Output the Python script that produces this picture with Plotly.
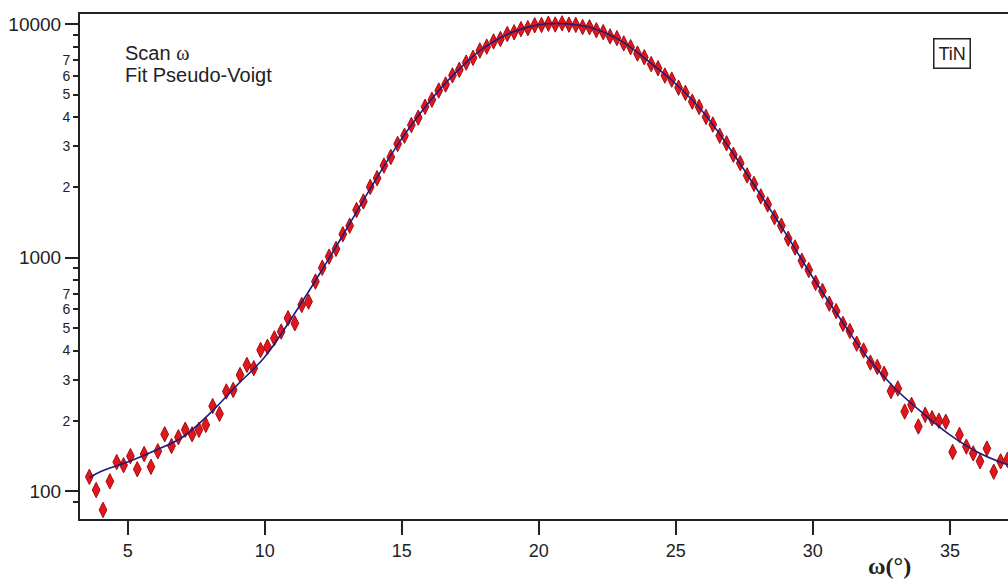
import plotly.graph_objects as go

# ---- data ----
omega = [
    3.60, 3.85, 4.10, 4.35, 4.60, 4.85, 5.10, 5.35, 5.60, 5.85,
    6.10, 6.35, 6.60, 6.85, 7.10, 7.35, 7.60, 7.85, 8.10, 8.35,
    8.60, 8.85, 9.10, 9.35, 9.60, 9.85, 10.10, 10.35, 10.60, 10.85,
    11.10, 11.35, 11.60, 11.85, 12.10, 12.35, 12.60, 12.85, 13.10, 13.35,
    13.60, 13.85, 14.10, 14.35, 14.60, 14.85, 15.10, 15.35, 15.60, 15.85,
    16.10, 16.35, 16.60, 16.85, 17.10, 17.35, 17.60, 17.85, 18.10, 18.35,
    18.60, 18.85, 19.10, 19.35, 19.60, 19.85, 20.10, 20.35, 20.60, 20.85,
    21.10, 21.35, 21.60, 21.85, 22.10, 22.35, 22.60, 22.85, 23.10, 23.35,
    23.60, 23.85, 24.10, 24.35, 24.60, 24.85, 25.10, 25.35, 25.60, 25.85,
    26.10, 26.35, 26.60, 26.85, 27.10, 27.35, 27.60, 27.85, 28.10, 28.35,
    28.60, 28.85, 29.10, 29.35, 29.60, 29.85, 30.10, 30.35, 30.60, 30.85,
    31.10, 31.35, 31.60, 31.85, 32.10, 32.35, 32.60, 32.85, 33.10, 33.35,
    33.60, 33.85, 34.10, 34.35, 34.60, 34.85, 35.10, 35.35, 35.60, 35.85,
    36.10, 36.35, 36.60, 36.85, 37.10,
]
intensity = [
    115, 101, 83, 110, 133, 129, 141, 124, 144, 127,
    148, 175, 156, 170, 183, 175, 183, 192, 231, 214,
    267, 271, 314, 347, 336, 402, 415, 451, 482, 550,
    523, 627, 648, 790, 905, 1010, 1090, 1260, 1370, 1600,
    1740, 2010, 2190, 2480, 2700, 3070, 3330, 3700, 3980, 4430,
    4750, 5200, 5520, 6040, 6380, 6850, 7180, 7720, 8020, 8440,
    8650, 9080, 9240, 9530, 9620, 9900, 9930, 10050, 9980, 10090,
    9960, 9940, 9730, 9710, 9430, 9250, 8870, 8720, 8280, 7980,
    7490, 7220, 6750, 6480, 6030, 5790, 5350, 5080, 4660, 4420,
    4010, 3720, 3330, 3090, 2760, 2540, 2250, 2070, 1830, 1690,
    1490, 1370, 1205, 1105, 970, 885, 780, 720, 635, 590,
    520, 485, 428, 400, 355, 340, 318, 268, 275, 219,
    234, 189, 212, 205, 200, 198, 147, 174, 155, 145,
    134, 152, 121, 134, 136,
]

fit_omega = [3.6, 4, 5, 6, 7, 8, 9, 10, 11, 12, 13, 14, 15, 16, 17, 18, 19, 20,
             21, 22, 23, 24, 25, 26, 27, 28, 29, 30, 31, 32, 33, 34, 35, 36, 37, 37.3]
fit_values = [114, 121, 133, 149, 170, 215, 285, 375, 555, 851, 1334, 2113, 3236,
              4645, 6266, 7943, 9226, 9954, 10046, 9594, 8492, 6950, 5546, 4198,
              2897, 1928, 1274, 822, 547, 372, 275, 216, 174, 147, 131, 128]

x_ticks = [5, 10, 15, 20, 25, 30, 35]
y_major = [100, 1000, 10000]
y_major_text = ["100", "1000", "10000"]
y_minor = [90, 200, 300, 400, 500, 600, 700, 800, 900,
           2000, 3000, 4000, 5000, 6000, 7000, 8000, 9000]
y_minor_text = ["", "2", "3", "4", "5", "6", "7", "", "",
                "2", "3", "4", "5", "6", "7", "", ""]

SANS = "Liberation Sans, Arial, sans-serif"
SERIF = "Liberation Serif, Times New Roman, serif"

fig = go.Figure()
fig.add_trace(go.Scatter(
    x=omega, y=intensity, mode="markers",
    marker=dict(symbol="diamond-tall", size=11, color="#e3161b",
                line=dict(color="#a30d10", width=1)),
    showlegend=False, hoverinfo="x+y"))
fig.add_trace(go.Scatter(
    x=fit_omega, y=fit_values, mode="lines", line_shape="spline",
    line=dict(color="#1c1c7a", width=1.6),
    showlegend=False))
fig.add_trace(go.Scatter(x=[None], y=[None], yaxis="y2", mode="markers",
                         showlegend=False, hoverinfo="skip"))

fig.update_layout(
    width=1008, height=581,
    margin=dict(l=80, r=0, t=14, b=62),
    plot_bgcolor="white", paper_bgcolor="white",
    xaxis=dict(range=[3.26, 37.12], tickmode="array", tickvals=x_ticks,
               ticks="outside", ticklen=14, tickwidth=2, tickcolor="#222",
               showline=True, linewidth=2, linecolor="#222", mirror=True,
               showgrid=False, zeroline=False,
               tickfont=dict(family=SANS, size=18, color="#222")),
    yaxis=dict(type="log", range=[1.88, 4.044], tickmode="array",
               tickvals=y_major, ticktext=y_major_text,
               ticks="outside", ticklen=13, tickwidth=2, tickcolor="#222",
               showline=True, linewidth=2, linecolor="#222",
               showgrid=False, zeroline=False,
               tickfont=dict(family=SANS, size=19, color="#222")),
    yaxis2=dict(type="log", range=[1.88, 4.044], overlaying="y", side="left",
                anchor="x", tickmode="array", tickvals=y_minor, ticktext=y_minor_text,
                ticks="outside", ticklen=6, tickwidth=2, tickcolor="#222",
                showline=False, showgrid=False, zeroline=False,
                tickfont=dict(family=SANS, size=14, color="#222")),
    annotations=[
        dict(text="Scan <span style='font-family:Liberation Serif'>ω</span>",
             xref="paper", yref="paper", x=0.0463, y=0.923,
             xanchor="left", yanchor="middle", showarrow=False,
             font=dict(family=SANS, size=20, color="#222")),
        dict(text="Fit Pseudo-Voigt",
             xref="paper", yref="paper", x=0.0463, y=0.879,
             xanchor="left", yanchor="middle", showarrow=False,
             font=dict(family=SANS, size=20, color="#222")),
        dict(text="TiN", xref="paper", yref="paper", x=0.940, y=0.922,
             xanchor="center", yanchor="middle", showarrow=False,
             bordercolor="#222", borderwidth=1.5, borderpad=4,
             font=dict(family=SANS, size=18, color="#222")),
        dict(text="<b>ω(°)</b>", xref="paper", yref="paper", x=0.872, y=-0.093,
             xanchor="center", yanchor="middle", showarrow=False,
             font=dict(family=SERIF, size=24, color="#222")),
    ],
)

fig.write_html("out.html",
               config={"displayModeBar": False},
               post_script="document.body.style.margin='0';document.body.style.overflow='hidden';")
